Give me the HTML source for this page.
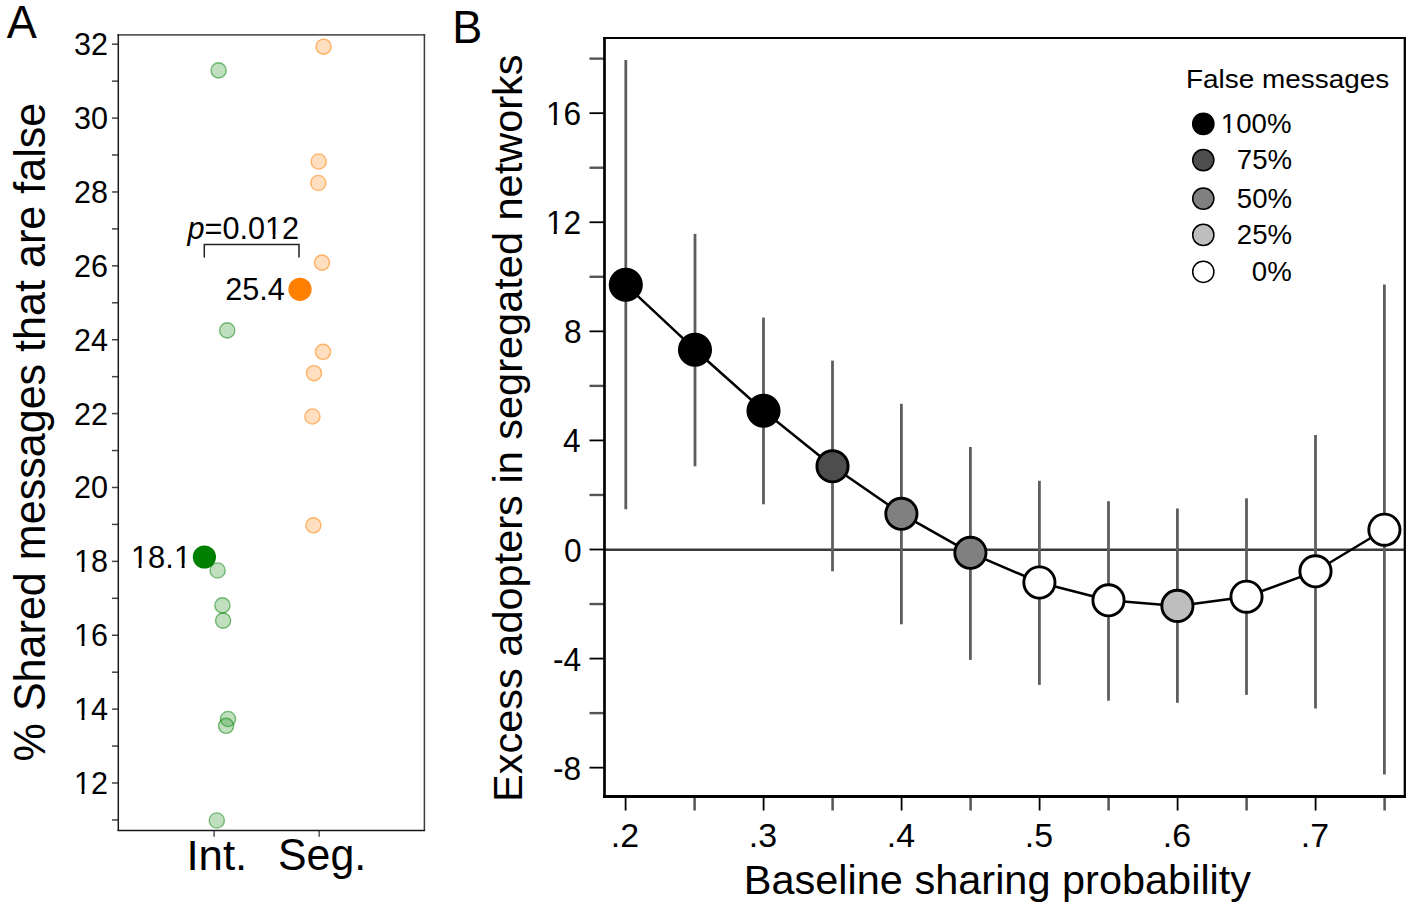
<!DOCTYPE html><html><head><meta charset="utf-8"><title>Figure</title><style>html,body{margin:0;padding:0;background:#fff;width:1413px;height:908px;overflow:hidden}svg{display:block;font-family:"Liberation Sans",sans-serif}</style></head><body>
<svg xmlns="http://www.w3.org/2000/svg" width="1413" height="908" viewBox="0 0 1413 908" font-family="Liberation Sans, sans-serif" fill="#000">
<rect width="1413" height="908" fill="#fff"/>
<text transform="translate(6.70,37.70) scale(0.9782,1)" font-size="46.11">A</text>
<text transform="translate(452.30,43.30) scale(0.9696,1)" font-size="46.40">B</text>
<line x1="112" x2="118.3" y1="819.94" y2="819.94" stroke="#444" stroke-width="1.5"/>
<line x1="112" x2="118.3" y1="783.00" y2="783.00" stroke="#444" stroke-width="1.5"/>
<text transform="translate(74.00,793.95) scale(0.9938,1)" font-size="30.73">12</text>
<g transform="translate(74.00,793.95) scale(0.9938,1)" fill="#fff"><rect x="1.20" y="-4.50" width="6.44" height="6.00"/><rect x="10.53" y="-4.50" width="6.20" height="6.00"/></g>
<line x1="112" x2="118.3" y1="746.06" y2="746.06" stroke="#444" stroke-width="1.5"/>
<line x1="112" x2="118.3" y1="709.12" y2="709.12" stroke="#444" stroke-width="1.5"/>
<text transform="translate(74.00,720.07) scale(0.9938,1)" font-size="30.73">14</text>
<g transform="translate(74.00,720.07) scale(0.9938,1)" fill="#fff"><rect x="1.20" y="-4.50" width="6.44" height="6.00"/><rect x="10.53" y="-4.50" width="6.20" height="6.00"/></g>
<line x1="112" x2="118.3" y1="672.18" y2="672.18" stroke="#444" stroke-width="1.5"/>
<line x1="112" x2="118.3" y1="635.24" y2="635.24" stroke="#444" stroke-width="1.5"/>
<text transform="translate(74.00,646.19) scale(0.9938,1)" font-size="30.73">16</text>
<g transform="translate(74.00,646.19) scale(0.9938,1)" fill="#fff"><rect x="1.20" y="-4.50" width="6.44" height="6.00"/><rect x="10.53" y="-4.50" width="6.20" height="6.00"/></g>
<line x1="112" x2="118.3" y1="598.30" y2="598.30" stroke="#444" stroke-width="1.5"/>
<line x1="112" x2="118.3" y1="561.36" y2="561.36" stroke="#444" stroke-width="1.5"/>
<text transform="translate(74.00,572.31) scale(0.9938,1)" font-size="30.73">18</text>
<g transform="translate(74.00,572.31) scale(0.9938,1)" fill="#fff"><rect x="1.20" y="-4.50" width="6.44" height="6.00"/><rect x="10.53" y="-4.50" width="6.20" height="6.00"/></g>
<line x1="112" x2="118.3" y1="524.42" y2="524.42" stroke="#444" stroke-width="1.5"/>
<line x1="112" x2="118.3" y1="487.48" y2="487.48" stroke="#444" stroke-width="1.5"/>
<text transform="translate(74.00,498.43) scale(0.9938,1)" font-size="30.73">20</text>
<line x1="112" x2="118.3" y1="450.54" y2="450.54" stroke="#444" stroke-width="1.5"/>
<line x1="112" x2="118.3" y1="413.60" y2="413.60" stroke="#444" stroke-width="1.5"/>
<text transform="translate(74.00,424.55) scale(0.9938,1)" font-size="30.73">22</text>
<line x1="112" x2="118.3" y1="376.66" y2="376.66" stroke="#444" stroke-width="1.5"/>
<line x1="112" x2="118.3" y1="339.72" y2="339.72" stroke="#444" stroke-width="1.5"/>
<text transform="translate(74.00,350.67) scale(0.9938,1)" font-size="30.73">24</text>
<line x1="112" x2="118.3" y1="302.78" y2="302.78" stroke="#444" stroke-width="1.5"/>
<line x1="112" x2="118.3" y1="265.84" y2="265.84" stroke="#444" stroke-width="1.5"/>
<text transform="translate(74.00,276.79) scale(0.9938,1)" font-size="30.73">26</text>
<line x1="112" x2="118.3" y1="228.90" y2="228.90" stroke="#444" stroke-width="1.5"/>
<line x1="112" x2="118.3" y1="191.96" y2="191.96" stroke="#444" stroke-width="1.5"/>
<text transform="translate(74.00,202.91) scale(0.9938,1)" font-size="30.73">28</text>
<line x1="112" x2="118.3" y1="155.02" y2="155.02" stroke="#444" stroke-width="1.5"/>
<line x1="112" x2="118.3" y1="118.08" y2="118.08" stroke="#444" stroke-width="1.5"/>
<text transform="translate(74.00,129.03) scale(0.9938,1)" font-size="30.73">30</text>
<line x1="112" x2="118.3" y1="81.14" y2="81.14" stroke="#444" stroke-width="1.5"/>
<line x1="112" x2="118.3" y1="44.20" y2="44.20" stroke="#444" stroke-width="1.5"/>
<text transform="translate(74.00,55.15) scale(0.9938,1)" font-size="30.73">32</text>
<line x1="214.1" x2="214.1" y1="830.4" y2="836.8" stroke="#555" stroke-width="1.5"/>
<line x1="319.2" x2="319.2" y1="830.4" y2="836.8" stroke="#555" stroke-width="1.5"/>
<text transform="translate(186.40,869.70) scale(1.0190,1)" font-size="42.95">Int.</text>
<text transform="translate(278.00,870.20) scale(0.9740,1)" font-size="44.00">Seg.</text>
<text transform="translate(44.90,761.40) rotate(-90) scale(0.9805,1)" font-size="43.96">% Shared messages that are false</text>
<line x1="117.6" x2="425.1" y1="34.9" y2="34.9" stroke="#5a5a5a" stroke-width="1.8"/>
<line x1="424.4" x2="424.4" y1="34.1" y2="831.1" stroke="#3a3a3a" stroke-width="1.5"/>
<line x1="117.6" x2="425.1" y1="830.4" y2="830.4" stroke="#161616" stroke-width="1.5"/>
<line x1="118.3" x2="118.3" y1="34.1" y2="831.1" stroke="#1a1a1a" stroke-width="1.5"/>
<circle cx="218.6" cy="70.4" r="7.6" fill="rgba(0,128,0,0.25)" stroke="rgba(0,128,0,0.5)" stroke-width="1.4"/>
<circle cx="227.2" cy="330.4" r="7.6" fill="rgba(0,128,0,0.25)" stroke="rgba(0,128,0,0.5)" stroke-width="1.4"/>
<circle cx="217.6" cy="570.5" r="7.6" fill="rgba(0,128,0,0.25)" stroke="rgba(0,128,0,0.5)" stroke-width="1.4"/>
<circle cx="222.4" cy="605.4" r="7.6" fill="rgba(0,128,0,0.25)" stroke="rgba(0,128,0,0.5)" stroke-width="1.4"/>
<circle cx="223.1" cy="620.6" r="7.6" fill="rgba(0,128,0,0.25)" stroke="rgba(0,128,0,0.5)" stroke-width="1.4"/>
<circle cx="228.0" cy="719.0" r="7.6" fill="rgba(0,128,0,0.25)" stroke="rgba(0,128,0,0.5)" stroke-width="1.4"/>
<circle cx="226.1" cy="725.8" r="7.6" fill="rgba(0,128,0,0.25)" stroke="rgba(0,128,0,0.5)" stroke-width="1.4"/>
<circle cx="216.8" cy="820.5" r="7.6" fill="rgba(0,128,0,0.25)" stroke="rgba(0,128,0,0.5)" stroke-width="1.4"/>
<circle cx="323.6" cy="46.7" r="7.6" fill="rgba(255,128,0,0.25)" stroke="rgba(255,128,0,0.55)" stroke-width="1.4"/>
<circle cx="318.7" cy="161.5" r="7.6" fill="rgba(255,128,0,0.25)" stroke="rgba(255,128,0,0.55)" stroke-width="1.4"/>
<circle cx="318.3" cy="183.0" r="7.6" fill="rgba(255,128,0,0.25)" stroke="rgba(255,128,0,0.55)" stroke-width="1.4"/>
<circle cx="322.0" cy="262.6" r="7.6" fill="rgba(255,128,0,0.25)" stroke="rgba(255,128,0,0.55)" stroke-width="1.4"/>
<circle cx="323.0" cy="351.8" r="7.6" fill="rgba(255,128,0,0.25)" stroke="rgba(255,128,0,0.55)" stroke-width="1.4"/>
<circle cx="314.0" cy="373.2" r="7.6" fill="rgba(255,128,0,0.25)" stroke="rgba(255,128,0,0.55)" stroke-width="1.4"/>
<circle cx="312.4" cy="416.5" r="7.6" fill="rgba(255,128,0,0.25)" stroke="rgba(255,128,0,0.55)" stroke-width="1.4"/>
<circle cx="313.4" cy="525.3" r="7.6" fill="rgba(255,128,0,0.25)" stroke="rgba(255,128,0,0.55)" stroke-width="1.4"/>
<circle cx="204.4" cy="557.0" r="11.6" fill="#008000"/>
<circle cx="300.0" cy="289.3" r="11.6" fill="#ff8000"/>
<text transform="translate(130.90,568.00) scale(0.9985,1)" font-size="31.01">18.1</text>
<g transform="translate(130.90,568.00) scale(0.9985,1)" fill="#fff"><rect x="1.21" y="-4.54" width="6.50" height="6.04"/><rect x="10.63" y="-4.54" width="6.25" height="6.04"/><rect x="44.32" y="-4.54" width="6.50" height="6.04"/><rect x="53.74" y="-4.54" width="6.25" height="6.04"/></g>
<text transform="translate(225.20,300.30) scale(0.9738,1)" font-size="31.43">25.4</text>
<text transform="translate(187.50,238.90) scale(0.9834,1)" font-size="31.15"><tspan font-style="italic">p</tspan>=0.012</text>
<g transform="translate(187.50,238.90) scale(0.9834,1)" fill="#fff"><rect x="80.03" y="-4.56" width="6.53" height="6.06"/><rect x="89.50" y="-4.56" width="6.28" height="6.06"/></g>
<path d="M204.3,257.6 V244.6 H299.0 V257.6" fill="none" stroke="#222" stroke-width="1.5"/>
<line x1="589.5" x2="604.5" y1="767.66" y2="767.66" stroke="#000" stroke-width="1.8"/>
<text transform="translate(552.90,779.66) scale(0.9732,1)" font-size="32.57">-8</text>
<line x1="589.5" x2="604.5" y1="713.12" y2="713.12" stroke="#555" stroke-width="2.4"/>
<line x1="589.5" x2="604.5" y1="658.58" y2="658.58" stroke="#000" stroke-width="1.8"/>
<text transform="translate(552.90,670.58) scale(0.9732,1)" font-size="32.57">-4</text>
<line x1="589.5" x2="604.5" y1="604.04" y2="604.04" stroke="#555" stroke-width="2.4"/>
<line x1="589.5" x2="604.5" y1="549.50" y2="549.50" stroke="#000" stroke-width="1.8"/>
<text transform="translate(563.90,561.50) scale(0.9732,1)" font-size="32.57">0</text>
<line x1="589.5" x2="604.5" y1="494.96" y2="494.96" stroke="#555" stroke-width="2.4"/>
<line x1="589.5" x2="604.5" y1="440.42" y2="440.42" stroke="#000" stroke-width="1.8"/>
<text transform="translate(562.90,452.42) scale(0.9732,1)" font-size="32.57">4</text>
<line x1="589.5" x2="604.5" y1="385.88" y2="385.88" stroke="#555" stroke-width="2.4"/>
<line x1="589.5" x2="604.5" y1="331.34" y2="331.34" stroke="#000" stroke-width="1.8"/>
<text transform="translate(563.90,343.34) scale(0.9732,1)" font-size="32.57">8</text>
<line x1="589.5" x2="604.5" y1="276.80" y2="276.80" stroke="#555" stroke-width="2.4"/>
<line x1="589.5" x2="604.5" y1="222.26" y2="222.26" stroke="#000" stroke-width="1.8"/>
<text transform="translate(545.90,234.26) scale(0.9732,1)" font-size="32.57">12</text>
<g transform="translate(545.90,234.26) scale(0.9732,1)" fill="#fff"><rect x="1.27" y="-4.77" width="6.82" height="6.27"/><rect x="11.16" y="-4.77" width="6.57" height="6.27"/></g>
<line x1="589.5" x2="604.5" y1="167.72" y2="167.72" stroke="#555" stroke-width="2.4"/>
<line x1="589.5" x2="604.5" y1="113.18" y2="113.18" stroke="#000" stroke-width="1.8"/>
<text transform="translate(545.90,125.18) scale(0.9732,1)" font-size="32.57">16</text>
<g transform="translate(545.90,125.18) scale(0.9732,1)" fill="#fff"><rect x="1.27" y="-4.77" width="6.82" height="6.27"/><rect x="11.16" y="-4.77" width="6.57" height="6.27"/></g>
<line x1="589.5" x2="604.5" y1="58.64" y2="58.64" stroke="#555" stroke-width="2.4"/>
<line x1="625.6" x2="625.6" y1="796.4" y2="810.5" stroke="#000" stroke-width="1.8"/>
<text transform="translate(610.80,847.30) scale(1.0403,1)" font-size="32.58">.2</text>
<line x1="694.6" x2="694.6" y1="796.4" y2="810.5" stroke="#555" stroke-width="2.5"/>
<line x1="763.6" x2="763.6" y1="796.4" y2="810.5" stroke="#000" stroke-width="1.8"/>
<text transform="translate(748.80,847.30) scale(1.0403,1)" font-size="32.58">.3</text>
<line x1="832.6" x2="832.6" y1="796.4" y2="810.5" stroke="#555" stroke-width="2.5"/>
<line x1="901.6" x2="901.6" y1="796.4" y2="810.5" stroke="#000" stroke-width="1.8"/>
<text transform="translate(886.80,847.30) scale(1.0403,1)" font-size="32.58">.4</text>
<line x1="970.6" x2="970.6" y1="796.4" y2="810.5" stroke="#555" stroke-width="2.5"/>
<line x1="1039.6" x2="1039.6" y1="796.4" y2="810.5" stroke="#000" stroke-width="1.8"/>
<text transform="translate(1024.80,847.30) scale(1.0403,1)" font-size="32.58">.5</text>
<line x1="1108.6" x2="1108.6" y1="796.4" y2="810.5" stroke="#555" stroke-width="2.5"/>
<line x1="1177.6" x2="1177.6" y1="796.4" y2="810.5" stroke="#000" stroke-width="1.8"/>
<text transform="translate(1162.80,847.30) scale(1.0403,1)" font-size="32.58">.6</text>
<line x1="1246.6" x2="1246.6" y1="796.4" y2="810.5" stroke="#555" stroke-width="2.5"/>
<line x1="1315.6" x2="1315.6" y1="796.4" y2="810.5" stroke="#000" stroke-width="1.8"/>
<text transform="translate(1300.80,847.30) scale(1.0403,1)" font-size="32.58">.7</text>
<line x1="1384.6" x2="1384.6" y1="796.4" y2="810.5" stroke="#555" stroke-width="2.5"/>
<text transform="translate(743.80,893.50) scale(1.0223,1)" font-size="40.59">Baseline sharing probability</text>
<text transform="translate(521.60,802.00) rotate(-90) scale(1.0097,1)" font-size="41.13">Excess adopters in segregated networks</text>
<line x1="604.5" x2="1405.0" y1="549.8" y2="549.8" stroke="#3a3a3a" stroke-width="2.4"/>
<line x1="625.8" x2="625.8" y1="60.0" y2="509.2" stroke="#5e5e5e" stroke-width="2.8"/>
<line x1="695.0" x2="695.0" y1="233.9" y2="466.3" stroke="#5e5e5e" stroke-width="2.8"/>
<line x1="763.5" x2="763.5" y1="317.6" y2="504.3" stroke="#5e5e5e" stroke-width="2.8"/>
<line x1="832.5" x2="832.5" y1="360.6" y2="571.3" stroke="#5e5e5e" stroke-width="2.8"/>
<line x1="901.4" x2="901.4" y1="403.8" y2="624.3" stroke="#5e5e5e" stroke-width="2.8"/>
<line x1="970.4" x2="970.4" y1="447.0" y2="659.9" stroke="#5e5e5e" stroke-width="2.8"/>
<line x1="1039.4" x2="1039.4" y1="480.8" y2="684.9" stroke="#5e5e5e" stroke-width="2.8"/>
<line x1="1108.5" x2="1108.5" y1="501.2" y2="700.7" stroke="#5e5e5e" stroke-width="2.8"/>
<line x1="1177.4" x2="1177.4" y1="508.5" y2="702.8" stroke="#5e5e5e" stroke-width="2.8"/>
<line x1="1246.5" x2="1246.5" y1="498.3" y2="694.9" stroke="#5e5e5e" stroke-width="2.8"/>
<line x1="1315.5" x2="1315.5" y1="434.9" y2="708.4" stroke="#5e5e5e" stroke-width="2.8"/>
<line x1="1384.4" x2="1384.4" y1="284.5" y2="774.6" stroke="#5e5e5e" stroke-width="2.8"/>
<polyline points="625.8,284.8 695.0,349.7 763.5,410.8 832.5,466.3 901.4,513.8 970.4,552.8 1039.4,582.5 1108.5,600.3 1177.4,605.9 1246.5,596.7 1315.5,571.3 1384.4,529.7" fill="none" stroke="#000" stroke-width="2.5" stroke-linejoin="round"/>
<circle cx="625.8" cy="284.8" r="15.6" fill="#000" stroke="#000" stroke-width="2.9"/>
<circle cx="695.0" cy="349.7" r="15.6" fill="#000" stroke="#000" stroke-width="2.9"/>
<circle cx="763.5" cy="410.8" r="15.6" fill="#000" stroke="#000" stroke-width="2.9"/>
<circle cx="832.5" cy="466.3" r="15.6" fill="#4d4d4d" stroke="#000" stroke-width="2.9"/>
<circle cx="901.4" cy="513.8" r="15.6" fill="#808080" stroke="#000" stroke-width="2.9"/>
<circle cx="970.4" cy="552.8" r="15.6" fill="#808080" stroke="#000" stroke-width="2.9"/>
<circle cx="1039.4" cy="582.5" r="15.6" fill="#fff" stroke="#000" stroke-width="2.9"/>
<circle cx="1108.5" cy="600.3" r="15.6" fill="#fff" stroke="#000" stroke-width="2.9"/>
<circle cx="1177.4" cy="605.9" r="15.6" fill="#bebebe" stroke="#000" stroke-width="2.9"/>
<circle cx="1246.5" cy="596.7" r="15.6" fill="#fff" stroke="#000" stroke-width="2.9"/>
<circle cx="1315.5" cy="571.3" r="15.6" fill="#fff" stroke="#000" stroke-width="2.9"/>
<circle cx="1384.4" cy="529.7" r="15.6" fill="#fff" stroke="#000" stroke-width="2.9"/>
<text transform="translate(1186.00,87.50) scale(1.0528,1)" font-size="26.52">False messages</text>
<circle cx="1203.3" cy="123.9" r="10.6" fill="#000" stroke="#000" stroke-width="1.5"/>
<text transform="translate(1220.80,132.80) scale(0.9760,1)" font-size="28.32">100%</text>
<g transform="translate(1220.80,132.80) scale(0.9760,1)" fill="#fff"><rect x="1.11" y="-4.15" width="5.93" height="5.65"/><rect x="9.71" y="-4.15" width="5.71" height="5.65"/></g>
<circle cx="1203.3" cy="160.1" r="10.6" fill="#4d4d4d" stroke="#000" stroke-width="1.5"/>
<text transform="translate(1236.80,169.00) scale(0.9760,1)" font-size="28.32">75%</text>
<circle cx="1203.3" cy="198.6" r="10.6" fill="#808080" stroke="#000" stroke-width="1.5"/>
<text transform="translate(1236.80,207.50) scale(0.9760,1)" font-size="28.32">50%</text>
<circle cx="1203.3" cy="234.9" r="10.6" fill="#bebebe" stroke="#000" stroke-width="1.5"/>
<text transform="translate(1236.80,243.80) scale(0.9760,1)" font-size="28.32">25%</text>
<circle cx="1203.3" cy="271.8" r="10.6" fill="#fff" stroke="#000" stroke-width="1.5"/>
<text transform="translate(1251.80,280.70) scale(0.9760,1)" font-size="28.32">0%</text>
<line x1="603.1" x2="1406" y1="38.0" y2="38.0" stroke="#000" stroke-width="2"/>
<line x1="1404.8" x2="1404.8" y1="37" y2="797.9" stroke="#000" stroke-width="2.3"/>
<line x1="603.1" x2="1406" y1="796.4" y2="796.4" stroke="#000" stroke-width="3"/>
<line x1="604.5" x2="604.5" y1="37" y2="797.9" stroke="#000" stroke-width="2.7"/>
</svg></body></html>
